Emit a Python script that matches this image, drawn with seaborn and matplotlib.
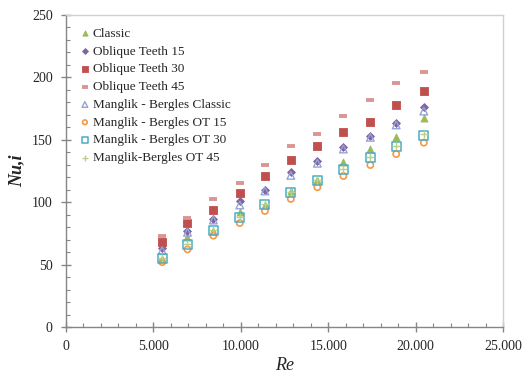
import matplotlib
matplotlib.use("Agg")
import matplotlib.pyplot as plt
from matplotlib.ticker import MultipleLocator, FuncFormatter
import seaborn as sns
import pandas as pd

# Reynolds numbers of the measured points
re_values = [5500, 6950, 8430, 9940, 11380, 12860, 14380, 15870, 17410, 18890, 20470]

# Local Nusselt numbers per configuration
nu_classic = [54.2, 72.4, 77.0, 91.9, 97.5, 109.2, 117.5, 132.5, 142.6, 152.5, 167.2]
nu_ot15 = [63.0, 77.2, 86.8, 101.2, 110.0, 123.8, 133.0, 144.5, 153.3, 163.2, 176.5]
nu_ot30 = [67.8, 83.6, 93.5, 107.6, 121.0, 133.6, 145.0, 156.0, 164.0, 178.1, 189.1]
nu_ot45 = [72.9, 87.6, 102.3, 115.6, 129.8, 145.0, 154.9, 169.0, 181.9, 195.3, 204.6]
nu_mb_classic = [61.2, 75.9, 85.7, 97.8, 109.0, 121.5, 131.2, 142.6, 152.0, 161.9, 173.0]
nu_mb_ot15 = [52.0, 62.2, 73.2, 83.3, 93.0, 102.6, 112.0, 121.0, 129.8, 138.6, 147.7]
nu_mb_ot30 = [55.0, 66.2, 77.2, 87.6, 98.0, 107.5, 117.5, 126.4, 136.0, 144.8, 153.8]
nu_mb_ot45 = [55.6, 66.6, 77.6, 88.1, 98.5, 108.0, 118.0, 127.0, 136.5, 145.4, 154.4]

series_names = [
    "Classic",
    "Oblique Teeth 15",
    "Oblique Teeth 30",
    "Oblique Teeth 45",
    "Manglik - Bergles Classic",
    "Manglik - Bergles OT 15",
    "Manglik - Bergles OT 30",
    "Manglik-Bergles OT 45",
]
series_values = [nu_classic, nu_ot15, nu_ot30, nu_ot45,
                 nu_mb_classic, nu_mb_ot15, nu_mb_ot30, nu_mb_ot45]

# marker, colour, filled, size, linewidth
styles = [
    ("^", "#9BBB59", True, 26, 0.0),
    ("D", "#8064A2", True, 16, 0.0),
    ("s", "#C0504D", True, 28, 0.0),
    ("_", "#D99694", False, 36, 2.8),
    ("^", "#95A3D5", False, 30, 1.0),
    ("o", "#F79646", False, 20, 1.2),
    ("s", "#4BACC6", False, 42, 1.1),
    ("+", "#B8D08A", False, 36, 1.0),
]

frames = []
for name, vals in zip(series_names, series_values):
    frames.append(pd.DataFrame({"Re": re_values, "Nu": vals, "series": name}))
data = pd.concat(frames, ignore_index=True)

sns.set_style("white")
plt.rcParams["font.family"] = ["Liberation Serif", "DejaVu Serif"]

fig = plt.figure(figsize=(5.26, 3.77), dpi=100)
ax = fig.add_axes([66 / 526, 50 / 377, 437 / 526, 312 / 377])

for name, (mk, col, filled, size, lw) in zip(series_names, styles):
    sub = data[data["series"] == name]
    if mk in ("_", "+"):
        kw = dict(color=col, linewidth=lw)
    elif filled:
        kw = dict(color=col, edgecolor=col, linewidth=0.6)
    else:
        kw = dict(facecolor="none", edgecolor=col, linewidth=lw)
    sns.scatterplot(data=sub, x="Re", y="Nu", marker=mk, s=size, ax=ax,
                    label=name, zorder=3, **kw)

ax.set_xlim(0, 25000)
ax.set_ylim(0, 250)
ax.xaxis.set_major_locator(MultipleLocator(5000))
ax.xaxis.set_minor_locator(MultipleLocator(1000))
ax.yaxis.set_major_locator(MultipleLocator(50))
ax.yaxis.set_minor_locator(MultipleLocator(10))
ax.xaxis.set_major_formatter(FuncFormatter(
    lambda v, p: "0" if v == 0 else f"{int(v):,}".replace(",", ".")))

axis_gray = "#868686"
for side in ("left", "bottom"):
    ax.spines[side].set_color(axis_gray)
    ax.spines[side].set_linewidth(1.0)
for side in ("top", "right"):
    ax.spines[side].set_color("#D0D0D0")
    ax.spines[side].set_linewidth(1.0)

ax.tick_params(axis="both", which="major", direction="inout", length=7,
               width=1.0, color=axis_gray, labelsize=10, pad=6,
               bottom=True, left=True)
ax.tick_params(axis="both", which="minor", direction="in", length=3,
               width=0.8, color=axis_gray, bottom=True, left=True)

ax.set_xlabel("Re", fontsize=13, fontstyle="italic", labelpad=3)
ax.set_ylabel("Nu,i", fontsize=13, fontstyle="italic", fontweight="bold",
              labelpad=5)

leg = ax.legend(loc="upper left", bbox_to_anchor=(0.01, 0.985), frameon=False,
                fontsize=9.5, handletextpad=0.1, labelspacing=0.42,
                handlelength=1.0, borderaxespad=0.2, markerscale=0.75)

fig.savefig("out.png", dpi=100)
